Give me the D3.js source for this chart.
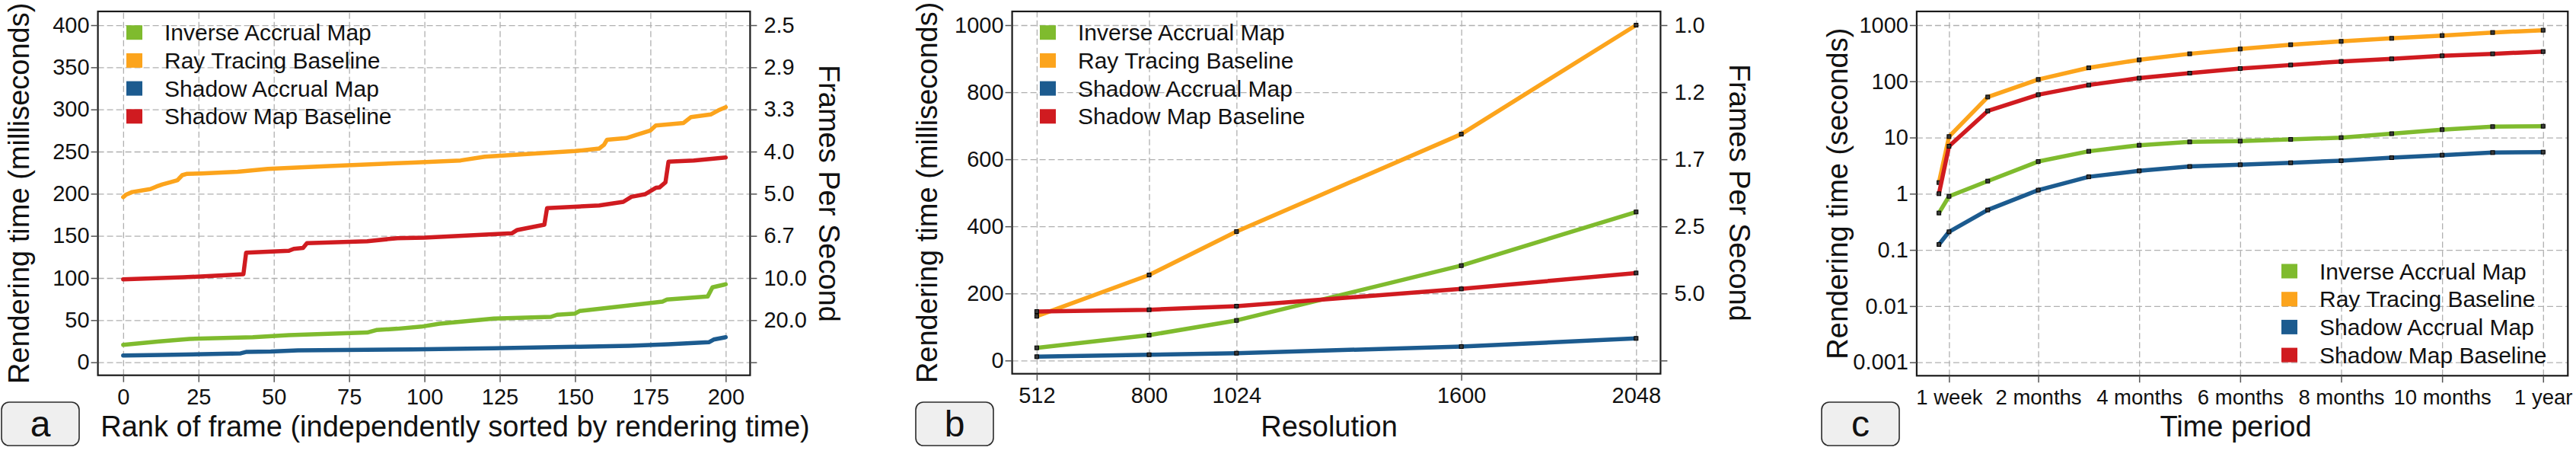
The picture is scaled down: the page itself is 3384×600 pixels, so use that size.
<!DOCTYPE html>
<html>
<head>
<meta charset="utf-8">
<script src="https://cdnjs.cloudflare.com/ajax/libs/d3/7.8.5/d3.min.js"></script>
<style>
  body { margin: 0; background: #fff; }
  svg text { font-family: "Liberation Sans", Arial, Helvetica, sans-serif; fill: #111; }
</style>
</head>
<body>
<svg id="fig" width="3384" height="600"></svg>
<script>
// ---------- shared ----------
var seriesNames = ["Inverse Accrual Map", "Ray Tracing Baseline", "Shadow Accrual Map", "Shadow Map Baseline"];
var seriesColors = ["#7fbb2e", "#fca41c", "#1c5b8f", "#d01b20"];

// ---------- panel a : rank of frame vs ms ----------
var rankTicks = [0, 25, 50, 75, 100, 125, 150, 175, 200];
var msTicksA = [0, 50, 100, 150, 200, 250, 300, 350, 400];
var fpsLabelsA = ["", "20.0", "10.0", "6.7", "5.0", "4.0", "3.3", "2.9", "2.5"];

var rankInverse = [[0,20.8],[12,24.8],[22,27.7],[43,29.8],[55,32.3],[81,35.3],[84,38.3],[91,39.8],
  [99,42.3],[105,45.8],[123,51.9],[142,53.9],[144,56.4],[150,57.8],[151.5,60.9],[159,63.9],
  [179,72],[180.5,74.4],[194,78],[195.6,88.9],[200,92.5]];
var rankRay = [[0,196],[1,199],[3,202],[9,205.5],[11,208.5],[13,211],[16,214],[18,216],[19.6,222],
  [21,223.5],[26,224],[38,226],[48,229.5],[67,232.6],[96,237],[112,239.5],[120,244],[150,250.6],
  [158,253.6],[159.6,258],[160.6,264],[167,266],[170.5,270],[175,275],[176.8,281],[186,284],
  [188.5,291],[195,294],[197.6,299],[200,302.7]];
var rankShadowAccrual = [[0,8.1],[13,8.7],[39,10.6],[41,12.4],[49,12.7],[58,14.2],[96,15.3],
  [123,16.6],[150,18.4],[168,19.6],[181,21.4],[194.4,23.8],[196,27],[200,29.8]];
var rankShadowMap = [[0,98.5],[20,100.9],[33,103.1],[39.9,104.5],[40.8,130],[55,132.3],[56.6,134.6],
  [59.7,135.6],[61,141.3],[81,143.7],[91,147.3],[100,148],[129,153],[130.8,157],[139.8,163.3],
  [140.7,183],[158,186],[166,190.4],[168.7,196.4],[173.2,199.4],[176.8,207],[178,207.5],[180,213.6],
  [181,238],[189.4,239.5],[200,243]];

// ---------- panel b : resolution vs ms ----------
var resolutions = [512, 800, 1024, 1600, 2048];
var msTicksB = [0, 200, 400, 600, 800, 1000];
var fpsLabelsB = ["", "5.0", "2.5", "1.7", "1.2", "1.0"];
var resInverse = [37.8, 75.6, 119.5, 283, 443];
var resRay = [132, 255, 384.5, 675, 1000];
var resShadowAccrual = [11.3, 17.3, 21.9, 41.6, 65.9];
var resShadowMap = [146, 151.3, 162, 213.5, 261];

// ---------- panel c : time period (months) vs seconds ----------
var periodMonths = [1/30, 7/30, 1, 2, 3, 4, 5, 6, 7, 8, 9, 10, 11, 12];
var periodTicks = [7/30, 2, 4, 6, 8, 10, 12];
var periodTickLabels = ["1 week", "2 months", "4 months", "6 months", "8 months", "10 months", "1 year"];
var secTicks = [0.001, 0.01, 0.1, 1, 10, 100, 1000];
var secTickLabels = ["0.001", "0.01", "0.1", "1", "10", "100", "1000"];
var periodInverse = [0.454, 0.90, 1.68, 3.74, 5.69, 7.29, 8.35, 8.61, 9.25, 9.97, 11.7, 13.8, 15.6, 15.9];
var periodRay = [1.58, 10.4, 52.6, 108, 174, 241, 309, 376, 449, 514, 582, 653, 740, 813];
var periodShadowAccrual = [0.125, 0.21, 0.514, 1.16, 2.0, 2.55, 3.05, 3.27, 3.56, 3.87, 4.38, 4.86, 5.39, 5.51];
var periodShadowMap = [1.0, 7.0, 29.7, 57.8, 86, 114, 140, 169, 195, 226, 251, 284, 309, 339];

var svg = d3.select("#fig");
svg.append("rect").attr("width", 3384).attr("height", 600).attr("fill", "#fff");

function zip(xs, ys) { return xs.map(function(v, i) { return [v, ys[i]]; }); }

function drawPanel(p) {
  var x = p.x, y = p.y;
  var left = x.range()[0], right = x.range()[1];
  var bottom = y.range()[0], top = y.range()[1];
  var g = svg.append("g");

  // grids
  g.append("g")
    .attr("class", "x axis-grid")
    .attr("transform", "translate(0," + bottom + ")")
    .call(d3.axisBottom(x).tickValues(p.xTicks).tickSize(-(bottom - top)).tickFormat(""));
  g.append("g")
    .attr("class", "y axis-grid")
    .attr("transform", "translate(" + left + ",0)")
    .call(d3.axisLeft(y).tickValues(p.yTicks).tickSize(-(right - left)).tickFormat(""));
  g.selectAll(".axis-grid .domain").remove();
  g.selectAll(".axis-grid line")
    .attr("stroke", "#b0b0b0")
    .attr("stroke-width", 1.3)
    .attr("stroke-dasharray", "8,4");

  // lines
  var line = d3.line()
    .x(function(d) { return x(d[0]); })
    .y(function(d) { return y(d[1]); });

  p.series.forEach(function(s, i) {
    g.append("path")
      .datum(s)
      .attr("fill", "none")
      .attr("stroke", seriesColors[i])
      .attr("stroke-width", 5.5)
      .attr("stroke-linejoin", "round")
      .attr("stroke-linecap", "round")
      .attr("d", line);
    if (p.markers) {
      g.append("g").selectAll("rect")
        .data(s)
        .enter()
        .append("rect")
        .attr("x", function(d) { return x(d[0]) - 2.5; })
        .attr("y", function(d) { return y(d[1]) - 2.5; })
        .attr("width", 5)
        .attr("height", 5)
        .attr("fill", "#3a3a3a")
        .attr("stroke", "#000")
        .attr("stroke-width", 1);
    }
  });

  // frame
  g.append("rect")
    .attr("x", left).attr("y", top)
    .attr("width", right - left).attr("height", bottom - top)
    .attr("fill", "none").attr("stroke", "#1a1a1a").attr("stroke-width", 2.2);

  // axes
  var xAxis = g.append("g")
    .attr("transform", "translate(0," + bottom + ")")
    .call(d3.axisBottom(x).tickValues(p.xTicks)
      .tickFormat(function(d, i) { return p.xLabels[i]; })
      .tickSize(9).tickPadding(9));
  var yAxis = g.append("g")
    .attr("transform", "translate(" + left + ",0)")
    .call(d3.axisLeft(y).tickValues(p.yTicks)
      .tickFormat(function(d, i) { return p.yLabels[i]; })
      .tickSize(9).tickPadding(2));
  var axes = [xAxis, yAxis];
  if (p.rightLabels) {
    axes.push(g.append("g")
      .attr("transform", "translate(" + right + ",0)")
      .call(d3.axisRight(y).tickValues(p.yTicks)
        .tickFormat(function(d, i) { return p.rightLabels[i]; })
        .tickSize(9).tickPadding(9)));
  }
  axes.forEach(function(a) {
    a.select(".domain").remove();
    a.selectAll("line").attr("stroke", "#555").attr("stroke-width", 1.5);
    a.selectAll("text").attr("font-size", 29).attr("font-family", null).attr("fill", "#111");
  });
  xAxis.selectAll("text").attr("font-size", p.xTickFont);

  // axis titles
  var midY = (top + bottom) / 2;
  g.append("text")
    .attr("transform", "translate(" + p.yTitleX + "," + midY + ") rotate(-90)")
    .attr("text-anchor", "middle")
    .attr("dy", "0.35em")
    .attr("font-size", 38)
    .text(p.yTitle);
  g.append("text")
    .attr("x", p.xTitleX)
    .attr("y", 573)
    .attr("text-anchor", "middle")
    .attr("font-size", 38)
    .text(p.xTitle);
  if (p.rightTitle) {
    g.append("text")
      .attr("transform", "translate(" + (right + 104) + "," + midY + ") rotate(90)")
      .attr("text-anchor", "middle")
      .attr("dy", "0.35em")
      .attr("font-size", 38)
      .text(p.rightTitle);
  }

  // legend
  var lg = g.append("g");
  seriesNames.forEach(function(name, i) {
    var cy = p.legend[1] + i * 36.7;
    lg.append("rect")
      .attr("x", p.legend[0]).attr("y", cy - 9.5)
      .attr("width", 21).attr("height", 19)
      .attr("fill", seriesColors[i]);
    lg.append("text")
      .attr("x", p.legend[0] + 50).attr("y", cy)
      .attr("dy", "0.35em")
      .attr("font-size", 30)
      .text(name);
  });

  // panel tag
  g.append("rect")
    .attr("x", p.tagX).attr("y", 528)
    .attr("width", 102).attr("height", 57)
    .attr("rx", 10)
    .attr("fill", "#efefef").attr("stroke", "#2b2b2b").attr("stroke-width", 1.6);
  g.append("text")
    .attr("x", p.tagX + 51).attr("y", 573)
    .attr("text-anchor", "middle")
    .attr("font-size", 48)
    .text(p.tag);
}

drawPanel({
  x: d3.scaleLinear().domain([-8.4, 208.1]).range([128.6, 985.4]),
  y: d3.scaleLinear().domain([-15.4, 416.3]).range([492.7, 15]),
  xTicks: rankTicks, xLabels: rankTicks.map(String), xTickFont: 29,
  yTicks: msTicksA, yLabels: msTicksA.map(String),
  rightLabels: fpsLabelsA,
  series: [rankInverse, rankRay, rankShadowAccrual, rankShadowMap],
  markers: false,
  yTitle: "Rendering time (milliseconds)", yTitleX: 25,
  xTitle: "Rank of frame (independently sorted by rendering time)", xTitleX: 598,
  rightTitle: "Frames Per Second",
  legend: [166, 42.7],
  tag: "a", tagX: 2
});

drawPanel({
  x: d3.scaleLinear().domain([449, 2110.6]).range([1329.6, 2181.4]),
  y: d3.scaleLinear().domain([-39.5, 1040.9]).range([490.7, 15]),
  xTicks: resolutions, xLabels: resolutions.map(String), xTickFont: 29,
  yTicks: msTicksB, yLabels: msTicksB.map(String),
  rightLabels: fpsLabelsB,
  series: [zip(resolutions, resInverse), zip(resolutions, resRay),
           zip(resolutions, resShadowAccrual), zip(resolutions, resShadowMap)],
  markers: true,
  yTitle: "Rendering time (milliseconds)", yTitleX: 1218,
  xTitle: "Resolution", xTitleX: 1746,
  rightTitle: "Frames Per Second",
  legend: [1366, 42.7],
  tag: "b", tagX: 1203
});

drawPanel({
  x: d3.scaleLinear().domain([-0.407, 12.49]).range([2517.9, 3373.3]),
  y: d3.scaleLog().domain([Math.pow(10, -3.239), Math.pow(10, 3.244)]).range([493.3, 15]),
  xTicks: periodTicks, xLabels: periodTickLabels, xTickFont: 27.5,
  yTicks: secTicks, yLabels: secTickLabels,
  rightLabels: null,
  series: [zip(periodMonths, periodInverse), zip(periodMonths, periodRay),
           zip(periodMonths, periodShadowAccrual), zip(periodMonths, periodShadowMap)],
  markers: true,
  yTitle: "Rendering time (seconds)", yTitleX: 2414,
  xTitle: "Time period", xTitleX: 2937,
  rightTitle: null,
  legend: [2997, 356],
  tag: "c", tagX: 2393
});
</script>
</body>
</html>
